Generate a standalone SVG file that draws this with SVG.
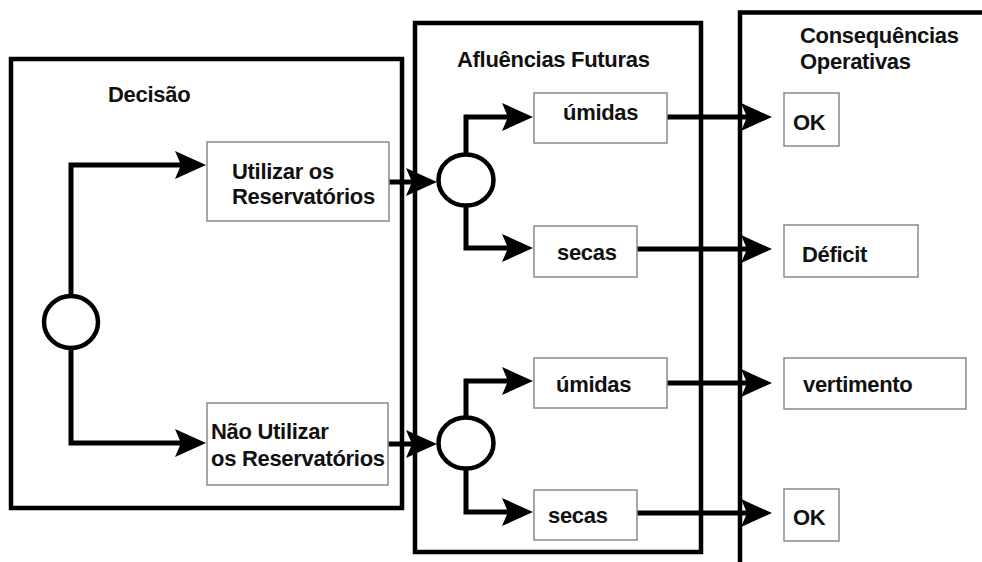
<svg xmlns="http://www.w3.org/2000/svg" width="982" height="562" viewBox="0 0 982 562">
<defs>
<style>
.frame{fill:none;stroke:#000;stroke-width:4.5}
.node{fill:#fff;stroke:#8a8a8a;stroke-width:1.5}
.circ{fill:#fff;stroke:#000;stroke-width:4.5}
.conn{fill:none;stroke:#000;stroke-width:5;stroke-linejoin:miter}
.t{font-family:"Liberation Sans",Arial,sans-serif;font-weight:bold;font-size:22px;letter-spacing:-0.3px;fill:#111}
</style>
<marker id="ah" markerUnits="userSpaceOnUse" markerWidth="32" markerHeight="28" refX="20" refY="14" orient="auto">
<path d="M0,0 L31,14 L0,28 L6,14 z" fill="#000"/>
</marker>
</defs>
<rect width="982" height="562" fill="#fff"/>

<g id="frame-decisao">
<rect class="frame" x="11" y="59" width="391" height="449"/>
<text class="t" x="108" y="102">Decisão</text>
</g>
<g id="frame-afluencias">
<rect class="frame" x="415" y="23" width="286" height="529"/>
<text class="t" x="457" y="67">Afluências Futuras</text>
</g>
<g id="frame-consequencias">
<path class="frame" d="M740,566 V12.5 H990"/>
<text class="t" x="800" y="43">Consequências</text>
<text class="t" x="800" y="69">Operativas</text>
</g>

<g id="connectors">
<path class="conn" d="M71,296 V165 H195" marker-end="url(#ah)"/>
<path class="conn" d="M71,348 V443 H195" marker-end="url(#ah)"/>
<path class="conn" d="M389,182 H426" marker-end="url(#ah)"/>
<path class="conn" d="M388,444 H426" marker-end="url(#ah)"/>
<path class="conn" d="M466,154 V117 H522" marker-end="url(#ah)"/>
<path class="conn" d="M466,205 V248 H522" marker-end="url(#ah)"/>
<path class="conn" d="M466,417 V381 H522" marker-end="url(#ah)"/>
<path class="conn" d="M466,469 V512 H522" marker-end="url(#ah)"/>
<path class="conn" d="M667,117 H761" marker-end="url(#ah)"/>
<path class="conn" d="M637,249 H761" marker-end="url(#ah)"/>
<path class="conn" d="M667,383 H761" marker-end="url(#ah)"/>
<path class="conn" d="M637,513 H761" marker-end="url(#ah)"/>
</g>

<g id="decision-node">
<ellipse class="circ" cx="71" cy="322" rx="27" ry="26"/>
</g>
<g id="chance-node-1">
<ellipse class="circ" cx="466" cy="180" rx="27.5" ry="25.5"/>
</g>
<g id="chance-node-2">
<ellipse class="circ" cx="466" cy="443" rx="27.5" ry="25.5"/>
</g>

<g id="utilizar">
<rect class="node" x="207" y="142" width="182" height="79"/>
<text class="t" x="232" y="179">Utilizar os</text>
<text class="t" x="232" y="204">Reservatórios</text>
</g>
<g id="nao-utilizar">
<rect class="node" x="207" y="403" width="181" height="82"/>
<text class="t" x="211" y="439">Não Utilizar</text>
<text class="t" x="211" y="466">os Reservatórios</text>
</g>

<g id="umidas-1">
<rect class="node" x="534" y="93" width="133" height="50"/>
<text class="t" x="563" y="120">úmidas</text>
</g>
<g id="secas-1">
<rect class="node" x="534" y="226" width="103" height="51"/>
<text class="t" x="557" y="260">secas</text>
</g>
<g id="umidas-2">
<rect class="node" x="534" y="358" width="133" height="50"/>
<text class="t" x="556" y="392">úmidas</text>
</g>
<g id="secas-2">
<rect class="node" x="534" y="490" width="103" height="50"/>
<text class="t" x="548" y="523">secas</text>
</g>

<g id="ok-1">
<rect class="node" x="784" y="93" width="55" height="53"/>
<text class="t" x="793" y="130">OK</text>
</g>
<g id="deficit">
<rect class="node" x="784" y="225" width="134" height="52"/>
<text class="t" x="802" y="262">Déficit</text>
</g>
<g id="vertimento">
<rect class="node" x="784" y="358" width="182" height="51"/>
<text class="t" x="803" y="392">vertimento</text>
</g>
<g id="ok-2">
<rect class="node" x="784" y="489" width="55" height="52"/>
<text class="t" x="793" y="525">OK</text>
</g>
</svg>
